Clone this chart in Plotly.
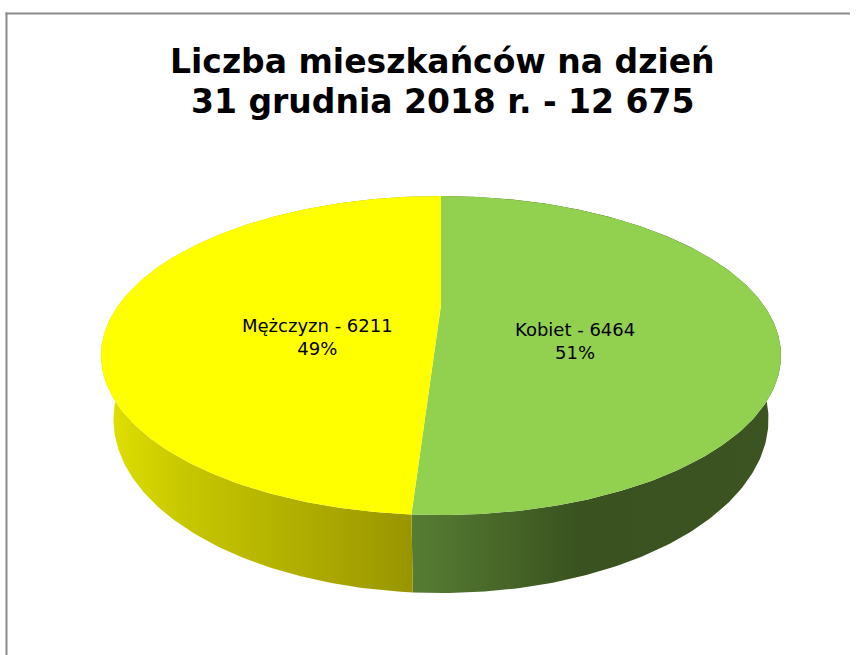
import math
import plotly.graph_objects as go

# ---- data ----
categories = ["Kobiet", "Mężczyzn"]
values = [6464, 6211]
title_lines = ["Liczba mieszkańców na dzień", "31 grudnia 2018 r. - 12 675"]

# ---- styles ----
top_colors = ["#92d050", "#ffff00"]
side_gradients = [
    dict(start=416, stop=782, colorscale=[[0, "#567c32"], [0.45, "#39521f"], [1, "#3b5422"]]),
    dict(start=102, stop=416, colorscale=[[0, "#e2e200"], [0.25, "#c8c800"], [1, "#989400"]]),
]

# ---- perspective projection of a 3D pie (pixel axes) ----
CX, CY = 441.0, 305.0
D = 1.0
R = 0.3537
F = 911.8
ALPHA = math.asin(0.445)
H = 0.0774


def proj(phi_deg, y3=0.0, r=1.0):
    p = math.radians(phi_deg)
    X = R * r * math.sin(p)
    Z = R * r * math.cos(p)
    v = y3 * math.cos(ALPHA) + Z * math.sin(ALPHA)
    w = Z * math.cos(ALPHA) - y3 * math.sin(ALPHA)
    s = F / (D + w)
    return CX + s * X, CY - s * v


def arc(a0, a1, y3=0.0, n=240):
    pts = [proj(a0 + (a1 - a0) * i / n, y3) for i in range(n + 1)]
    return [p[0] for p in pts], [p[1] for p in pts]


total = sum(values)
angles = []
acc = 0.0
for v in values:
    a0 = 360.0 * acc / total
    acc += v
    a1 = 360.0 * acc / total
    angles.append((a0, a1))

fig = go.Figure()

# side walls
for (a0, a1), grad in zip(angles, side_gradients):
    tx, ty = arc(a0, a1, 0.0)
    bx, by = arc(a1, a0, -H)
    fig.add_trace(go.Scatter(
        x=tx + bx + [tx[0]], y=ty + by + [ty[0]],
        mode="lines", line=dict(width=0), fill="toself",
        fillgradient=dict(type="horizontal", **grad),
        hoverinfo="skip", showlegend=False))

# top faces
for (a0, a1), col in zip(angles, top_colors):
    tx, ty = arc(a0, a1, 0.0)
    fig.add_trace(go.Scatter(
        x=[CX] + tx + [CX], y=[CY] + ty + [CY],
        mode="lines", line=dict(width=0, color=col), fill="toself",
        fillcolor=col, hoverinfo="skip", showlegend=False))

# data labels
annotations = []
for cat, v, (a0, a1) in zip(categories, values, angles):
    mx, my = proj((a0 + a1) / 2, 0.0, 0.4)
    pct = round(100 * v / total)
    annotations.append(dict(
        x=mx + 5, y=my, xref="x", yref="y", yshift=-34,
        text=f"{cat} - {v}<br>{pct}%", showarrow=False,
        font=dict(family="DejaVu Sans", size=18, color="#000000"),
        align="center"))

# title
for line, yy in zip(title_lines, [61, 101]):
    annotations.append(dict(
        x=442, y=yy, xref="x", yref="y", text=f"<b>{line}</b>",
        showarrow=False, font=dict(family="DejaVu Sans", size=33, color="#000000")))

border = dict(color="#8a8a8a", width=2)
fig.update_layout(
    width=860, height=655, autosize=False,
    margin=dict(l=0, r=0, t=0, b=0),
    paper_bgcolor="white", plot_bgcolor="white",
    xaxis=dict(range=[0, 860], visible=False, fixedrange=True, showline=False, zeroline=False, showgrid=False),
    yaxis=dict(range=[655, 0], visible=False, fixedrange=True, showline=False, zeroline=False, showgrid=False),
    annotations=annotations,
    shapes=[
        dict(type="line", xref="x", yref="y", x0=6.5, y0=12.5, x1=6.5, y1=655, line=border, layer="below"),
        dict(type="line", xref="x", yref="y", x0=5.5, y0=13.5, x1=850, y1=13.5, line=border, layer="below"),
    ],
)

fig.write_html(
    "out.html",
    config={"displayModeBar": False},
    post_script="document.body.style.margin='0';document.body.style.overflow='hidden';",
)
